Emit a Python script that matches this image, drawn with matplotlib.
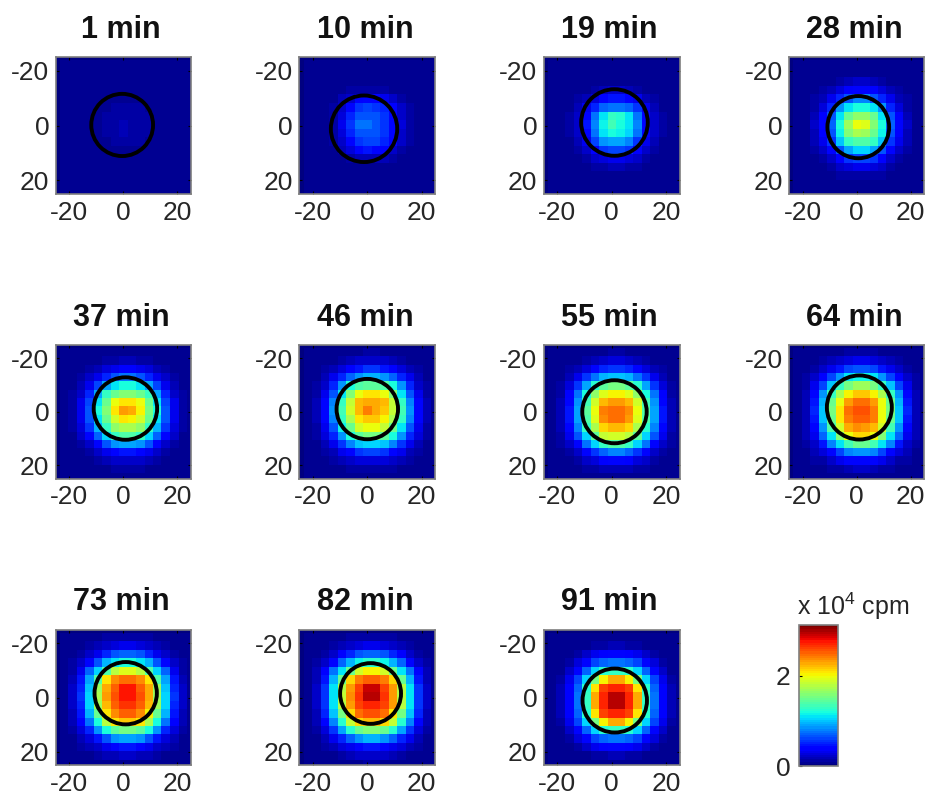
import matplotlib
matplotlib.use("Agg")
import matplotlib.pyplot as plt
from matplotlib.patches import Circle
import numpy as np

plt.rcParams['font.family'] = ['Liberation Sans', 'DejaVu Sans']
plt.rcParams['mathtext.default'] = 'regular'
plt.rcParams['axes.unicode_minus'] = False

titles = ["1 min", "10 min", "19 min", "28 min", "37 min", "46 min", "55 min", "64 min", "73 min", "82 min", "91 min"]

# activity per cell, in units of 100 cpm
m01 = [
    [5, 5, 5, 5, 5, 5, 5, 5, 5, 5, 5, 5, 5, 5, 5, 5],
    [5, 5, 5, 5, 5, 5, 5, 5, 5, 5, 5, 5, 5, 5, 5, 5],
    [5, 5, 5, 5, 5, 5, 5, 5, 5, 5, 5, 5, 5, 5, 5, 5],
    [5, 5, 5, 5, 5, 5, 6, 6, 6, 6, 5, 5, 5, 5, 5, 5],
    [5, 5, 5, 5, 6, 7, 8, 8, 8, 8, 7, 6, 5, 5, 5, 5],
    [5, 5, 5, 5, 7, 9, 10, 10, 10, 10, 9, 7, 5, 5, 5, 5],
    [5, 5, 5, 5, 7, 10, 11, 12, 12, 11, 10, 7, 5, 5, 5, 5],
    [5, 5, 5, 5, 8, 10, 12, 15, 13, 11, 10, 7, 5, 5, 5, 5],
    [5, 5, 5, 5, 8, 10, 11, 15, 12, 11, 10, 7, 5, 5, 5, 5],
    [5, 5, 5, 5, 7, 9, 10, 11, 11, 10, 9, 7, 5, 5, 5, 5],
    [5, 5, 5, 5, 6, 7, 8, 9, 9, 8, 7, 6, 5, 5, 5, 5],
    [5, 5, 5, 5, 5, 6, 6, 7, 7, 6, 6, 5, 5, 5, 5, 5],
    [5, 5, 5, 5, 5, 5, 5, 5, 5, 5, 5, 5, 5, 5, 5, 5],
    [5, 5, 5, 5, 5, 5, 5, 5, 5, 5, 5, 5, 5, 5, 5, 5],
    [5, 5, 5, 5, 5, 5, 5, 5, 5, 5, 5, 5, 5, 5, 5, 5],
    [5, 5, 5, 5, 5, 5, 5, 5, 5, 5, 5, 5, 5, 5, 5, 5],
]
m10 = [
    [5, 5, 5, 5, 5, 5, 5, 5, 5, 5, 5, 5, 5, 5, 5, 5],
    [5, 5, 5, 5, 5, 5, 5, 5, 5, 5, 5, 5, 5, 5, 5, 5],
    [5, 5, 5, 5, 5, 6, 6, 6, 6, 6, 5, 5, 5, 5, 5, 5],
    [5, 5, 5, 6, 8, 10, 13, 14, 14, 12, 9, 8, 6, 5, 5, 5],
    [5, 5, 6, 9, 15, 24, 36, 42, 40, 32, 20, 13, 8, 6, 5, 5],
    [5, 5, 7, 11, 24, 42, 56, 60, 58, 50, 36, 20, 10, 7, 5, 5],
    [5, 5, 7, 12, 28, 50, 64, 66, 64, 56, 42, 24, 11, 7, 5, 5],
    [5, 5, 7, 13, 30, 54, 76, 78, 66, 58, 44, 26, 12, 7, 5, 5],
    [5, 5, 7, 12, 28, 50, 66, 68, 64, 56, 42, 24, 11, 7, 5, 5],
    [5, 5, 7, 11, 24, 42, 56, 62, 60, 52, 38, 22, 10, 7, 5, 5],
    [5, 5, 6, 9, 16, 26, 40, 46, 44, 36, 24, 14, 8, 6, 5, 5],
    [5, 5, 5, 6, 9, 12, 16, 18, 18, 15, 12, 9, 6, 5, 5, 5],
    [5, 5, 5, 5, 6, 7, 8, 9, 9, 8, 6, 6, 5, 5, 5, 5],
    [5, 5, 5, 5, 5, 5, 5, 5, 5, 5, 5, 5, 5, 5, 5, 5],
    [5, 5, 5, 5, 5, 5, 5, 5, 5, 5, 5, 5, 5, 5, 5, 5],
    [5, 5, 5, 5, 5, 5, 5, 5, 5, 5, 5, 5, 5, 5, 5, 5],
]
m19 = [
    [5, 5, 5, 5, 5, 5, 5, 5, 5, 5, 5, 5, 5, 5, 5, 5],
    [5, 5, 5, 5, 5, 5, 5, 5, 5, 5, 5, 5, 5, 5, 5, 5],
    [5, 5, 5, 5, 6, 7, 8, 9, 9, 8, 7, 6, 5, 5, 5, 5],
    [5, 5, 6, 7, 9, 13, 18, 22, 22, 18, 13, 9, 7, 6, 5, 5],
    [5, 6, 7, 10, 18, 28, 42, 48, 48, 44, 30, 18, 10, 7, 6, 5],
    [5, 6, 9, 16, 32, 52, 70, 78, 78, 72, 54, 32, 16, 9, 6, 5],
    [5, 7, 10, 20, 42, 76, 112, 128, 124, 108, 78, 42, 20, 10, 7, 5],
    [5, 7, 11, 22, 46, 80, 116, 135, 122, 110, 80, 44, 22, 11, 7, 5],
    [5, 7, 10, 20, 42, 76, 108, 118, 116, 106, 76, 42, 20, 10, 7, 5],
    [5, 6, 9, 16, 34, 60, 84, 92, 90, 82, 58, 34, 16, 9, 6, 5],
    [5, 6, 7, 12, 22, 38, 54, 62, 62, 54, 38, 22, 12, 7, 6, 5],
    [5, 5, 6, 8, 12, 20, 28, 32, 32, 28, 20, 12, 8, 6, 5, 5],
    [5, 5, 5, 6, 8, 10, 13, 15, 15, 13, 10, 8, 6, 5, 5, 5],
    [5, 5, 5, 5, 6, 7, 7, 8, 8, 7, 6, 6, 5, 5, 5, 5],
    [5, 5, 5, 5, 5, 5, 5, 5, 5, 5, 5, 5, 5, 5, 5, 5],
    [5, 5, 5, 5, 5, 5, 5, 5, 5, 5, 5, 5, 5, 5, 5, 5],
]
m28 = [
    [5, 5, 5, 5, 5, 5, 5, 5, 5, 5, 5, 5, 5, 5, 5, 5],
    [5, 5, 5, 5, 6, 7, 8, 9, 9, 8, 7, 6, 5, 5, 5, 5],
    [5, 5, 6, 7, 9, 13, 17, 20, 20, 17, 13, 9, 7, 6, 5, 5],
    [5, 6, 7, 11, 17, 26, 36, 42, 42, 36, 26, 17, 11, 7, 6, 5],
    [5, 6, 10, 18, 32, 50, 66, 82, 82, 66, 50, 32, 18, 10, 6, 5],
    [5, 7, 14, 28, 50, 86, 112, 122, 122, 112, 86, 50, 28, 14, 7, 5],
    [6, 8, 18, 36, 66, 112, 150, 165, 165, 150, 112, 66, 36, 18, 8, 6],
    [6, 9, 20, 40, 72, 122, 168, 198, 192, 160, 120, 72, 40, 20, 9, 6],
    [6, 8, 18, 38, 68, 116, 160, 172, 168, 150, 116, 68, 38, 18, 8, 6],
    [5, 8, 16, 32, 58, 102, 130, 140, 138, 128, 100, 58, 32, 16, 8, 5],
    [5, 7, 12, 22, 42, 66, 92, 104, 104, 92, 66, 42, 22, 12, 7, 5],
    [5, 6, 8, 14, 24, 38, 54, 62, 62, 54, 38, 24, 14, 8, 6, 5],
    [5, 5, 7, 9, 14, 20, 26, 30, 30, 26, 20, 14, 9, 7, 5, 5],
    [5, 5, 5, 6, 8, 10, 12, 14, 14, 12, 10, 8, 6, 5, 5, 5],
    [5, 5, 5, 5, 5, 6, 7, 7, 7, 7, 6, 5, 5, 5, 5, 5],
    [5, 5, 5, 5, 5, 5, 5, 5, 5, 5, 5, 5, 5, 5, 5, 5],
]
m37 = [
    [5, 5, 5, 5, 6, 6, 7, 7, 7, 7, 6, 6, 5, 5, 5, 5],
    [5, 5, 6, 7, 9, 11, 14, 16, 16, 14, 11, 9, 7, 6, 5, 5],
    [5, 6, 8, 11, 17, 25, 32, 37, 37, 32, 25, 17, 11, 8, 6, 5],
    [6, 7, 11, 20, 34, 52, 66, 74, 74, 66, 52, 34, 20, 11, 7, 6],
    [6, 9, 17, 34, 62, 92, 112, 122, 122, 112, 92, 62, 34, 17, 9, 6],
    [6, 10, 24, 50, 90, 128, 150, 158, 158, 150, 128, 90, 50, 24, 10, 6],
    [7, 12, 30, 62, 110, 150, 196, 210, 210, 196, 150, 110, 62, 30, 12, 7],
    [7, 12, 32, 68, 118, 158, 206, 230, 228, 204, 156, 118, 68, 32, 12, 7],
    [7, 12, 30, 64, 112, 150, 190, 206, 204, 188, 150, 112, 64, 30, 12, 7],
    [6, 11, 26, 54, 96, 130, 162, 176, 176, 162, 130, 96, 54, 26, 11, 6],
    [6, 9, 20, 40, 72, 106, 130, 138, 138, 130, 106, 72, 40, 20, 9, 6],
    [6, 8, 13, 24, 44, 66, 84, 90, 90, 84, 66, 44, 24, 13, 8, 6],
    [5, 6, 9, 14, 22, 32, 42, 46, 46, 42, 32, 22, 14, 9, 6, 5],
    [5, 5, 7, 9, 12, 16, 20, 22, 22, 20, 16, 12, 9, 7, 5, 5],
    [5, 5, 5, 6, 7, 8, 10, 11, 11, 10, 8, 7, 6, 5, 5, 5],
    [5, 5, 5, 5, 5, 6, 6, 6, 6, 6, 6, 5, 5, 5, 5, 5],
]
m46 = [
    [5, 5, 5, 6, 7, 8, 9, 10, 10, 9, 8, 7, 6, 5, 5, 5],
    [5, 6, 7, 9, 12, 16, 20, 24, 24, 20, 16, 12, 9, 7, 6, 5],
    [6, 7, 10, 16, 26, 38, 48, 54, 54, 48, 38, 26, 16, 10, 7, 6],
    [6, 9, 16, 30, 50, 72, 88, 96, 96, 88, 72, 50, 30, 16, 9, 6],
    [7, 11, 24, 50, 84, 118, 138, 146, 146, 138, 118, 84, 50, 24, 11, 7],
    [7, 13, 34, 68, 112, 160, 196, 208, 208, 196, 160, 112, 68, 34, 13, 7],
    [8, 15, 40, 80, 130, 182, 222, 226, 226, 222, 182, 130, 80, 40, 15, 8],
    [8, 16, 42, 84, 136, 186, 224, 240, 228, 220, 184, 134, 84, 42, 16, 8],
    [8, 15, 40, 80, 130, 176, 206, 216, 216, 204, 174, 128, 80, 40, 15, 8],
    [7, 14, 34, 68, 114, 150, 186, 200, 198, 184, 150, 112, 68, 34, 14, 7],
    [7, 12, 26, 52, 88, 122, 146, 154, 154, 146, 122, 88, 52, 26, 12, 7],
    [6, 9, 17, 32, 56, 80, 98, 104, 104, 98, 80, 56, 32, 17, 9, 6],
    [6, 7, 11, 18, 30, 42, 54, 60, 60, 54, 42, 30, 18, 11, 7, 6],
    [5, 6, 8, 11, 15, 20, 26, 28, 28, 26, 20, 15, 11, 8, 6, 5],
    [5, 5, 6, 7, 8, 10, 12, 13, 13, 12, 10, 8, 7, 6, 5, 5],
    [5, 5, 5, 5, 6, 6, 7, 7, 7, 7, 6, 6, 5, 5, 5, 5],
]
m55 = [
    [5, 5, 5, 6, 7, 8, 9, 10, 10, 9, 8, 7, 6, 5, 5, 5],
    [5, 6, 7, 9, 13, 17, 22, 26, 26, 22, 17, 13, 9, 7, 6, 5],
    [6, 7, 11, 18, 28, 40, 52, 58, 58, 52, 40, 28, 18, 11, 7, 6],
    [6, 9, 18, 34, 56, 78, 94, 102, 102, 94, 78, 56, 34, 18, 9, 6],
    [7, 12, 26, 54, 90, 124, 146, 152, 152, 146, 124, 90, 54, 26, 12, 7],
    [7, 14, 36, 74, 118, 165, 195, 205, 205, 195, 165, 118, 74, 36, 14, 7],
    [8, 16, 42, 86, 136, 188, 222, 232, 232, 222, 188, 136, 86, 42, 16, 8],
    [8, 17, 46, 92, 142, 198, 240, 248, 248, 238, 196, 140, 92, 46, 17, 8],
    [8, 17, 46, 90, 140, 194, 236, 246, 246, 234, 192, 138, 90, 46, 17, 8],
    [8, 16, 40, 82, 128, 176, 212, 222, 222, 212, 174, 126, 82, 40, 16, 8],
    [7, 14, 32, 66, 104, 144, 182, 190, 190, 180, 142, 104, 66, 32, 14, 7],
    [7, 11, 22, 44, 74, 104, 130, 140, 140, 130, 104, 74, 44, 22, 11, 7],
    [6, 8, 13, 24, 40, 58, 72, 80, 80, 72, 58, 40, 24, 13, 8, 6],
    [5, 6, 9, 13, 20, 28, 36, 40, 40, 36, 28, 20, 13, 9, 6, 5],
    [5, 5, 6, 8, 10, 13, 16, 18, 18, 16, 13, 10, 8, 6, 5, 5],
    [5, 5, 5, 6, 6, 7, 8, 8, 8, 8, 7, 6, 6, 5, 5, 5],
]
m64 = [
    [5, 5, 6, 7, 8, 9, 11, 12, 12, 11, 9, 8, 7, 6, 5, 5],
    [6, 6, 8, 11, 15, 20, 26, 30, 30, 26, 20, 15, 11, 8, 6, 6],
    [6, 8, 13, 21, 32, 46, 60, 68, 68, 60, 46, 32, 21, 13, 8, 6],
    [7, 10, 20, 38, 62, 86, 108, 116, 116, 108, 86, 62, 38, 20, 10, 7],
    [7, 13, 30, 62, 100, 130, 155, 168, 168, 155, 130, 100, 62, 30, 13, 7],
    [8, 16, 42, 84, 132, 172, 204, 220, 220, 204, 172, 132, 84, 42, 16, 8],
    [8, 18, 48, 96, 150, 200, 232, 246, 246, 232, 200, 150, 96, 48, 18, 8],
    [9, 18, 50, 100, 155, 208, 246, 258, 258, 244, 198, 152, 100, 50, 18, 9],
    [9, 18, 48, 98, 150, 206, 244, 252, 250, 240, 196, 148, 98, 48, 18, 9],
    [8, 17, 44, 88, 138, 190, 226, 236, 234, 224, 186, 136, 88, 44, 17, 8],
    [8, 15, 34, 70, 112, 160, 196, 214, 214, 196, 160, 112, 70, 34, 15, 8],
    [7, 12, 24, 48, 80, 112, 136, 148, 148, 136, 112, 80, 48, 24, 12, 7],
    [6, 9, 15, 26, 44, 62, 80, 88, 88, 80, 62, 44, 26, 15, 9, 6],
    [5, 7, 10, 14, 22, 30, 40, 44, 44, 40, 30, 22, 14, 10, 7, 5],
    [5, 6, 7, 8, 11, 14, 18, 20, 20, 18, 14, 11, 8, 7, 6, 5],
    [5, 5, 5, 6, 7, 7, 8, 9, 9, 8, 7, 7, 6, 5, 5, 5],
]
m73 = [
    [5, 5, 6, 7, 8, 10, 11, 12, 12, 11, 10, 8, 7, 6, 5, 5],
    [6, 6, 8, 11, 16, 21, 27, 32, 32, 27, 21, 16, 11, 8, 6, 6],
    [6, 8, 13, 22, 34, 50, 64, 70, 70, 64, 50, 34, 22, 13, 8, 6],
    [7, 11, 22, 42, 68, 94, 112, 120, 120, 112, 94, 68, 42, 22, 11, 7],
    [8, 14, 34, 70, 106, 140, 180, 194, 194, 180, 140, 106, 70, 34, 14, 8],
    [8, 17, 46, 90, 140, 210, 236, 246, 246, 236, 210, 140, 90, 46, 17, 8],
    [9, 20, 52, 102, 168, 226, 254, 276, 276, 254, 226, 168, 102, 52, 20, 9],
    [9, 20, 54, 106, 172, 230, 258, 278, 278, 256, 228, 170, 106, 54, 20, 9],
    [9, 20, 52, 104, 170, 224, 250, 266, 266, 250, 222, 168, 104, 52, 20, 9],
    [9, 18, 48, 94, 150, 206, 238, 250, 250, 238, 204, 148, 94, 48, 18, 9],
    [8, 16, 38, 76, 122, 178, 206, 220, 220, 206, 176, 120, 76, 38, 16, 8],
    [8, 13, 26, 52, 86, 120, 146, 156, 156, 146, 120, 86, 52, 26, 13, 8],
    [6, 9, 16, 28, 48, 68, 84, 92, 92, 84, 68, 48, 28, 16, 9, 6],
    [5, 7, 10, 15, 24, 32, 42, 46, 46, 42, 32, 24, 15, 10, 7, 5],
    [5, 6, 7, 9, 12, 15, 19, 22, 22, 19, 15, 12, 9, 7, 6, 5],
    [5, 5, 5, 6, 7, 8, 9, 9, 9, 9, 8, 7, 6, 5, 5, 5],
]
m82 = [
    [5, 5, 6, 7, 8, 10, 12, 13, 13, 12, 10, 8, 7, 6, 5, 5],
    [6, 6, 8, 11, 16, 22, 28, 33, 33, 28, 22, 16, 11, 8, 6, 6],
    [6, 8, 14, 23, 36, 52, 66, 72, 72, 66, 52, 36, 23, 14, 8, 6],
    [7, 11, 22, 44, 70, 96, 116, 124, 124, 116, 96, 70, 44, 22, 11, 7],
    [8, 15, 36, 74, 110, 148, 190, 204, 204, 190, 148, 110, 74, 36, 15, 8],
    [8, 18, 48, 94, 150, 214, 240, 250, 250, 240, 214, 150, 94, 48, 18, 8],
    [9, 20, 56, 108, 178, 232, 264, 292, 292, 264, 232, 178, 108, 56, 20, 9],
    [9, 21, 58, 112, 182, 236, 268, 294, 294, 266, 234, 180, 112, 58, 21, 9],
    [9, 20, 56, 110, 180, 232, 260, 272, 272, 260, 230, 178, 110, 56, 20, 9],
    [9, 19, 50, 98, 156, 212, 246, 256, 256, 246, 210, 154, 98, 50, 19, 9],
    [8, 17, 40, 80, 126, 184, 214, 224, 224, 214, 182, 124, 80, 40, 17, 8],
    [8, 13, 28, 54, 90, 124, 150, 160, 160, 150, 124, 90, 54, 28, 13, 8],
    [6, 9, 17, 30, 50, 70, 88, 96, 96, 88, 70, 50, 30, 17, 9, 6],
    [5, 7, 10, 16, 25, 34, 44, 48, 48, 44, 34, 25, 16, 10, 7, 5],
    [5, 6, 7, 9, 12, 16, 20, 23, 23, 20, 16, 12, 9, 7, 6, 5],
    [5, 5, 5, 6, 7, 8, 9, 10, 10, 9, 8, 7, 6, 5, 5, 5],
]
m91 = [
    [5, 5, 5, 5, 5, 5, 5, 5, 5, 5, 5, 5, 5, 5, 5, 5],
    [5, 5, 6, 7, 9, 11, 13, 15, 15, 13, 11, 9, 7, 6, 5, 5],
    [5, 6, 9, 14, 22, 30, 36, 40, 40, 36, 30, 22, 14, 9, 6, 5],
    [5, 7, 14, 28, 44, 60, 72, 78, 78, 72, 60, 44, 28, 14, 7, 5],
    [5, 9, 22, 44, 72, 104, 124, 132, 132, 124, 104, 72, 44, 22, 9, 5],
    [6, 12, 30, 60, 104, 152, 202, 226, 226, 202, 152, 104, 60, 30, 12, 6],
    [6, 15, 36, 72, 124, 208, 262, 272, 272, 262, 208, 124, 72, 36, 15, 6],
    [6, 16, 38, 78, 128, 226, 272, 296, 296, 272, 226, 128, 78, 38, 16, 6],
    [6, 16, 38, 78, 128, 226, 272, 296, 296, 272, 226, 128, 78, 38, 16, 6],
    [6, 15, 36, 72, 124, 208, 262, 272, 272, 262, 208, 124, 72, 36, 15, 6],
    [6, 12, 30, 60, 104, 152, 202, 226, 226, 202, 152, 104, 60, 30, 12, 6],
    [5, 9, 22, 44, 72, 104, 124, 132, 132, 124, 104, 72, 44, 22, 9, 5],
    [5, 7, 14, 28, 44, 60, 72, 78, 78, 72, 60, 44, 28, 14, 7, 5],
    [5, 6, 9, 14, 22, 30, 36, 40, 40, 36, 30, 22, 14, 9, 6, 5],
    [5, 5, 6, 7, 9, 11, 13, 15, 15, 13, 11, 9, 7, 6, 5, 5],
    [5, 5, 5, 5, 5, 5, 5, 5, 5, 5, 5, 5, 5, 5, 5, 5],
]
frames = [m01, m10, m19, m28, m37, m46, m55, m64, m73, m82, m91]

# black outline per frame: centre and radius in mm
circle_x = [-0.4, -1.2, 1.0, 0.6, 0.8, 0.0, 1.0, 1.0, 0.9, 1.2, 1.1]
circle_y = [-0.2, 1.2, -1.1, 0.6, -1.2, -1.0, 0.0, -1.6, -1.6, -1.5, 1.1]
circle_r = [11.4, 12.2, 12.2, 11.4, 11.7, 11.3, 11.8, 12.0, 11.5, 11.2, 11.8]

# cell edges, the grid is not centred on the axes
x_edges = [-23.4, -20.3, -17.15, -14.0, -10.9, -7.75, -4.6, -1.5, 1.6, 4.75, 7.9, 11.0, 14.1, 17.25, 20.4, 23.5, 26.6]
y_edges = [-23.9, -20.8, -17.65, -14.5, -11.4, -8.25, -5.1, -2.0, 1.1, 4.25, 7.4, 10.5, 13.6, 16.75, 19.9, 23.0, 26.1]

tick_pos = [-20, 0, 20]
tick_labels = ["-20", "0", "20"]
cbar_max = 313
cbar_ticks = [0, 200]
cbar_labels = ["0", "2"]

W, H = 925, 795
col_px = [(55.5, 191), (299.3, 435.3), (543.5, 680), (789, 924.3)]
row_px = [(57.3, 193.7), (345, 478.5), (629.8, 765.3)]

cmap = plt.get_cmap('jet', 64)
fig = plt.figure(figsize=(W / 100, H / 100), dpi=100, facecolor='white')


def px_axes(left, right, top, bottom):
    return fig.add_axes([left / W, 1 - bottom / H, (right - left) / W, (bottom - top) / H])


mesh = None
for i in range(len(frames)):
    r, c = divmod(i, 4)
    ax = px_axes(col_px[c][0], col_px[c][1], row_px[r][0], row_px[r][1])
    ax.set_facecolor(cmap(0))
    mesh = ax.pcolormesh(x_edges, y_edges, np.array(frames[i]), cmap=cmap, vmin=0, vmax=cbar_max, shading='flat')
    ax.add_patch(Circle((circle_x[i], circle_y[i]), circle_r[i], fill=False, edgecolor='black', linewidth=2.8))
    ax.set_xlim(-25, 25)
    ax.set_ylim(25, -25)
    ax.set_xticks(tick_pos)
    ax.set_xticklabels(tick_labels)
    ax.set_yticks(tick_pos)
    ax.set_yticklabels(tick_labels)
    ax.tick_params(direction='in', length=2, width=0.8, labelsize=19, labelcolor='#262626', top=True, right=True)
    ax.tick_params(axis='x', pad=5)
    ax.tick_params(axis='y', pad=4.5)
    for s in ax.spines.values():
        s.set_color('#7f7f7f')
        s.set_linewidth(1.2)
    ax.set_title(titles[i], fontsize=22, fontweight='bold', color='#111111', pad=14, x=0.485)

cax = px_axes(798.5, 837.5, 625, 766)
cb = fig.colorbar(mesh, cax=cax)
cb.set_ticks(cbar_ticks)
cb.set_ticklabels(cbar_labels)
cax.yaxis.set_ticks_position('left')
cax.tick_params(direction='in', length=2, width=0.8, labelsize=19, labelcolor='#262626', pad=6)
cb.outline.set_edgecolor('#7f7f7f')
cb.outline.set_linewidth(1.2)

fig.text(797 / W, 1 - 615 / H, "x 10$^4$ cpm", fontsize=18, color='#262626', ha='left', va='baseline')

fig.savefig("out.png", dpi=100)
